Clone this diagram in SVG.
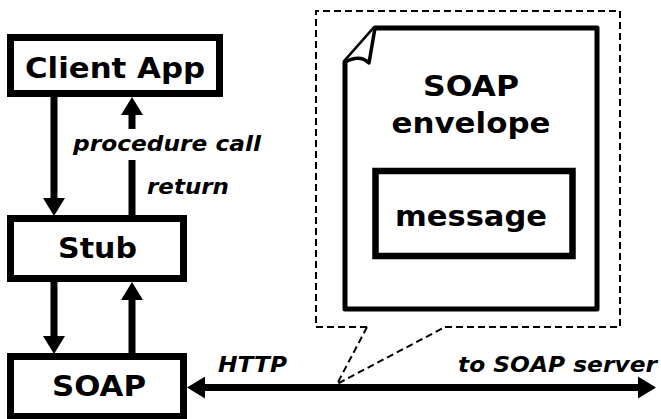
<svg xmlns="http://www.w3.org/2000/svg" width="661" height="419" viewBox="0 0 661 419">
  <style>
    .box { fill: #fff; stroke: #000; stroke-width: 7; }
    .lbl { font-family: "DejaVu Sans", Verdana, sans-serif; font-weight: bold; font-size: 29px; fill: #000; text-anchor: middle; }
    .note { font-family: "DejaVu Sans", Verdana, sans-serif; font-weight: bold; font-style: italic; font-size: 21px; fill: #000; }
    .wire { stroke: #000; stroke-width: 7; fill: none; }
    .dash { stroke: #000; stroke-width: 2; fill: none; stroke-dasharray: 7 4; }
  </style>
  <defs>
    <marker id="head" markerUnits="userSpaceOnUse" markerWidth="18" markerHeight="22" refX="0" refY="11" orient="auto-start-reverse">
      <path d="M0,0 L18,11 L0,22 z" fill="#000"/>
    </marker>
  </defs>
  <rect width="661" height="419" fill="#fff"/>

  <!-- zoom-out callout frame around the envelope -->
  <g id="callout">
    <path class="dash" d="M367,327 L316,327 L316,11 L620,11 L620,327 L445,327"/>
    <path class="dash" d="M367,327 L337,384 L445,327"/>
  </g>

  <g id="connectors">
    <line class="wire" x1="54" y1="97" x2="54" y2="198" marker-end="url(#head)"/>
    <line class="wire" x1="132" y1="129" x2="132" y2="115" marker-end="url(#head)"/>
    <line class="wire" x1="132" y1="160" x2="132" y2="216"/>
    <line class="wire" x1="54" y1="281" x2="54" y2="336" marker-end="url(#head)"/>
    <line class="wire" x1="132" y1="354" x2="132" y2="300" marker-end="url(#head)"/>
    <line class="wire" x1="205" y1="387.5" x2="638" y2="387.5" marker-start="url(#head)" marker-end="url(#head)"/>
    <text class="note" x="73" y="151" textLength="188" lengthAdjust="spacingAndGlyphs">procedure call</text>
    <text class="note" x="147" y="194" textLength="82" lengthAdjust="spacingAndGlyphs">return</text>
    <text class="note" x="218" y="372" textLength="69" lengthAdjust="spacingAndGlyphs">HTTP</text>
    <text class="note" x="458" y="372" textLength="199" lengthAdjust="spacingAndGlyphs">to SOAP server</text>
  </g>

  <g id="client-app">
    <rect class="box" x="10.5" y="37.5" width="209" height="56"/>
    <text class="lbl" x="115" y="77.5" textLength="180" lengthAdjust="spacingAndGlyphs">Client App</text>
  </g>

  <g id="stub">
    <rect class="box" x="10.5" y="218.5" width="173" height="60"/>
    <text class="lbl" x="97.5" y="258" textLength="79" lengthAdjust="spacingAndGlyphs">Stub</text>
  </g>

  <g id="soap">
    <rect class="box" x="10.5" y="356.5" width="173" height="60"/>
    <text class="lbl" x="99" y="396" textLength="94" lengthAdjust="spacingAndGlyphs">SOAP</text>
  </g>

  <g id="envelope">
    <path d="M345,62 L375,28 L597,28 L597,309 L345,309 Z" fill="#fff" stroke="#000" stroke-width="5" stroke-linejoin="round"/>
    <path d="M375,28 L369,63 Q360,54 345,62" fill="#fff" stroke="#000" stroke-width="3.5" stroke-linejoin="round"/>
    <text class="lbl" x="471" y="96" textLength="96" lengthAdjust="spacingAndGlyphs">SOAP</text>
    <text class="lbl" x="471" y="133" textLength="159" lengthAdjust="spacingAndGlyphs">envelope</text>
  </g>

  <g id="message">
    <rect x="375.5" y="171" width="197" height="85" fill="#fff" stroke="#000" stroke-width="6.5"/>
    <text class="lbl" x="471" y="226" textLength="152" lengthAdjust="spacingAndGlyphs">message</text>
  </g>
</svg>
